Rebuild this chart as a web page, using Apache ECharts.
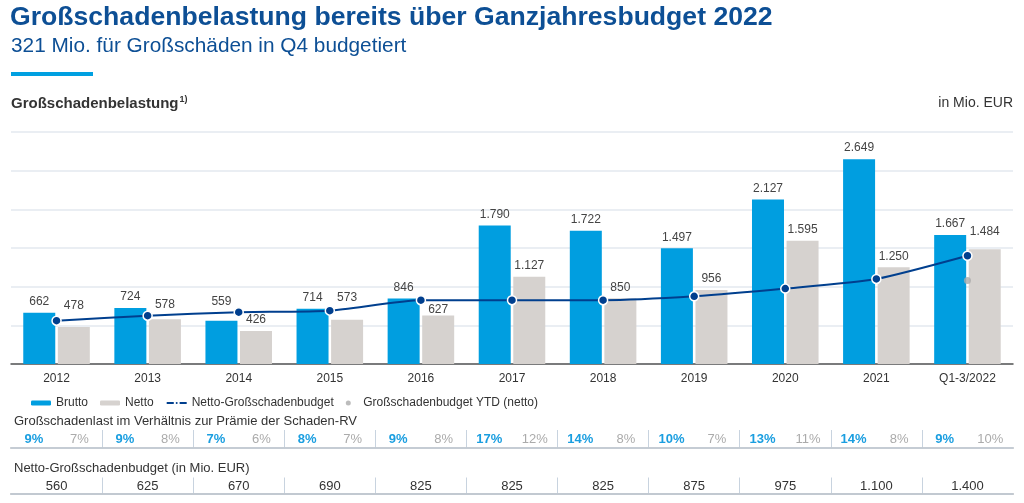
<!DOCTYPE html>
<html>
<head>
<meta charset="utf-8">
<script src="https://cdn.jsdelivr.net/npm/echarts@6/dist/echarts.min.js"></script>
<style>
html,body{margin:0;padding:0;background:#fff;}
#chart{width:1024px;height:503px;}
</style>
</head>
<body>
<div id="chart"></div>
<script>
// ---- data ----
const years = ['2012','2013','2014','2015','2016','2017','2018','2019','2020','2021','Q1-3/2022'];
const brutto = [662, 724, 559, 714, 846, 1790, 1722, 1497, 2127, 2649, 1667];
const netto = [478, 578, 426, 573, 627, 1127, 850, 956, 1595, 1250, 1484];
const budget = [560, 625, 670, 690, 825, 825, 825, 875, 975, 1100, 1400];
const budgetYTD = [null, null, null, null, null, null, null, null, null, null, 1079];
const bruttoPct = [9, 9, 7, 8, 9, 17, 14, 10, 13, 14, 9];
const nettoPct = [7, 8, 6, 7, 8, 12, 8, 7, 11, 8, 10];
const yTicks = {min: 0, max: 3000, interval: 500};

// label distance tweaks (style only)
const bruttoLabelDist = {2: 13};
const nettoLabelDist = {0: 15, 1: 9, 3: 16, 4: 0, 10: 12};

const FONT = 'Liberation Sans, Arial, sans-serif';
const de = v => String(v).replace(/\B(?=(\d{3})+(?!\d))/g, '.');

function withDist(arr, dist) {
  return arr.map((v, i) => dist[i] !== undefined ? {value: v, label: {distance: dist[i]}} : v);
}

const chart = echarts.init(document.getElementById('chart'), null, {renderer: 'canvas'});

const option = {
  backgroundColor: '#ffffff',
  animation: false,
  textStyle: {fontFamily: FONT},
  title: [
    {text: 'Großschadenbelastung bereits über Ganzjahresbudget 2022', left: 10, top: 4, padding: 0,
     textStyle: {fontSize: 26.6, fontWeight: 'bold', color: '#0d4f95', fontFamily: FONT}},
    {text: '321 Mio. für Großschäden in Q4 budgetiert', left: 11, top: 35.5, padding: 0,
     textStyle: {fontSize: 20.8, fontWeight: 'normal', color: '#0d4f95', fontFamily: FONT}},
    {text: '{m|Großschadenbelastung}{s|1)}', left: 11, top: 95, padding: 0,
     textStyle: {rich: {
       m: {fontSize: 15, fontWeight: 'bold', color: '#333333', fontFamily: FONT},
       s: {fontSize: 9, fontWeight: 'bold', color: '#333333', fontFamily: FONT, verticalAlign: 'top', padding: [0,0,8,1]}
     }}},
    {text: 'in Mio. EUR', right: 11, top: 96, padding: 0,
     textStyle: {fontSize: 14, fontWeight: 'normal', color: '#333333', fontFamily: FONT}},
    {text: 'Großschadenlast im Verhältnis zur Prämie der Schaden-RV', left: 14, top: 415, padding: 0,
     textStyle: {fontSize: 13, fontWeight: 'normal', color: '#333333', fontFamily: FONT}},
    {text: 'Netto-Großschadenbudget (in Mio. EUR)', left: 14, top: 462, padding: 0,
     textStyle: {fontSize: 13, fontWeight: 'normal', color: '#333333', fontFamily: FONT}}
  ],
  graphic: [
    {type: 'rect', left: 11, top: 72, shape: {width: 82, height: 4}, style: {fill: '#00a0e1'}}
  ],
  legend: {
    left: 26, top: 392, itemWidth: 20, itemHeight: 5, itemGap: 12,
    textStyle: {fontSize: 12, color: '#333333', fontFamily: FONT},
    data: ['Brutto', 'Netto', 'Netto-Großschadenbudget', 'Großschadenbudget YTD (netto)']
  },
  grid: [
    {left: 11, right: 11, top: 132, height: 232},
    {left: 11, right: 11, top: 430, height: 18},
    {left: 11, right: 11, top: 477.5, height: 16}
  ],
  xAxis: [
    {gridIndex: 0, type: 'category', data: years,
     axisLine: {lineStyle: {color: '#555555', width: 1.5}}, axisTick: {show: false},
     axisLabel: {color: '#333333', fontSize: 12, margin: 9, fontFamily: FONT}},
    // percent row
    {gridIndex: 1, type: 'category', data: years, position: 'top',
     axisLine: {lineStyle: {color: '#8a8a8a', width: 1.5}}, axisTick: {show: false},
     splitLine: {show: true, showMinLine: false, showMaxLine: false, lineStyle: {color: '#c8d3df', width: 1}},
     axisLabel: {inside: true, margin: 3, interval: 0,
       formatter: (v, i) => `{b|${bruttoPct[i]}%}{n|${nettoPct[i]}%}`,
       rich: {
         b: {width: 45.5, align: 'center', fontSize: 13, fontWeight: 'bold', color: '#1a9ee0', fontFamily: FONT},
         n: {width: 45.5, align: 'center', fontSize: 13, color: '#ababab', fontFamily: FONT}
       }}},
    {gridIndex: 1, type: 'category', data: years, position: 'bottom',
     axisLine: {lineStyle: {color: '#cfd9e4', width: 1.5}}, axisTick: {show: false}, axisLabel: {show: false}},
    // budget row
    {gridIndex: 2, type: 'category', data: years, position: 'top',
     axisLine: {lineStyle: {color: '#7a7a7a', width: 1.5}}, axisTick: {show: false},
     splitLine: {show: true, showMinLine: false, showMaxLine: false, lineStyle: {color: '#c8d3df', width: 1}},
     axisLabel: {inside: true, margin: 2, interval: 0, color: '#333333', fontSize: 13, fontFamily: FONT,
       formatter: (v, i) => de(budget[i])}},
    {gridIndex: 2, type: 'category', data: years, position: 'bottom',
     axisLine: {lineStyle: {color: '#cfd9e4', width: 1.5}}, axisTick: {show: false}, axisLabel: {show: false}}
  ],
  yAxis: [
    {gridIndex: 0, type: 'value', min: yTicks.min, max: yTicks.max, interval: yTicks.interval,
     axisLabel: {show: false}, axisLine: {show: false}, axisTick: {show: false},
     splitLine: {lineStyle: {color: '#e3e8ef', width: 1.5}}},
    {gridIndex: 1, type: 'value', min: 0, max: 1, show: false},
    {gridIndex: 2, type: 'value', min: 0, max: 1, show: false}
  ],
  series: [
    {name: 'Brutto', type: 'bar', xAxisIndex: 0, yAxisIndex: 0, data: withDist(brutto, bruttoLabelDist),
     barWidth: 32, barGap: '8%', itemStyle: {color: '#009ee0'},
     label: {show: true, position: 'top', color: '#444444', fontSize: 12, fontFamily: FONT,
       formatter: p => de(p.value)}},
    {name: 'Netto', type: 'bar', xAxisIndex: 0, yAxisIndex: 0, data: withDist(netto, nettoLabelDist),
     barWidth: 32, barGap: '8%', itemStyle: {color: '#d6d2cf'},
     label: {show: true, position: 'top', color: '#444444', fontSize: 12, fontFamily: FONT,
       formatter: p => de(p.value)}},
    {name: 'Netto-Großschadenbudget', type: 'line', xAxisIndex: 0, yAxisIndex: 0, data: budget,
     smooth: 0.2, symbol: 'circle', symbolSize: 9, z: 5,
     lineStyle: {color: '#003f8e', width: 2},
     itemStyle: {color: '#003f8e', borderColor: '#ffffff', borderWidth: 1.5}},
    {name: 'Großschadenbudget YTD (netto)', type: 'scatter', xAxisIndex: 0, yAxisIndex: 0, data: budgetYTD,
     symbolSize: 7, z: 6, itemStyle: {color: '#ababab'}}
  ]
};

chart.setOption(option);
</script>
</body>
</html>
